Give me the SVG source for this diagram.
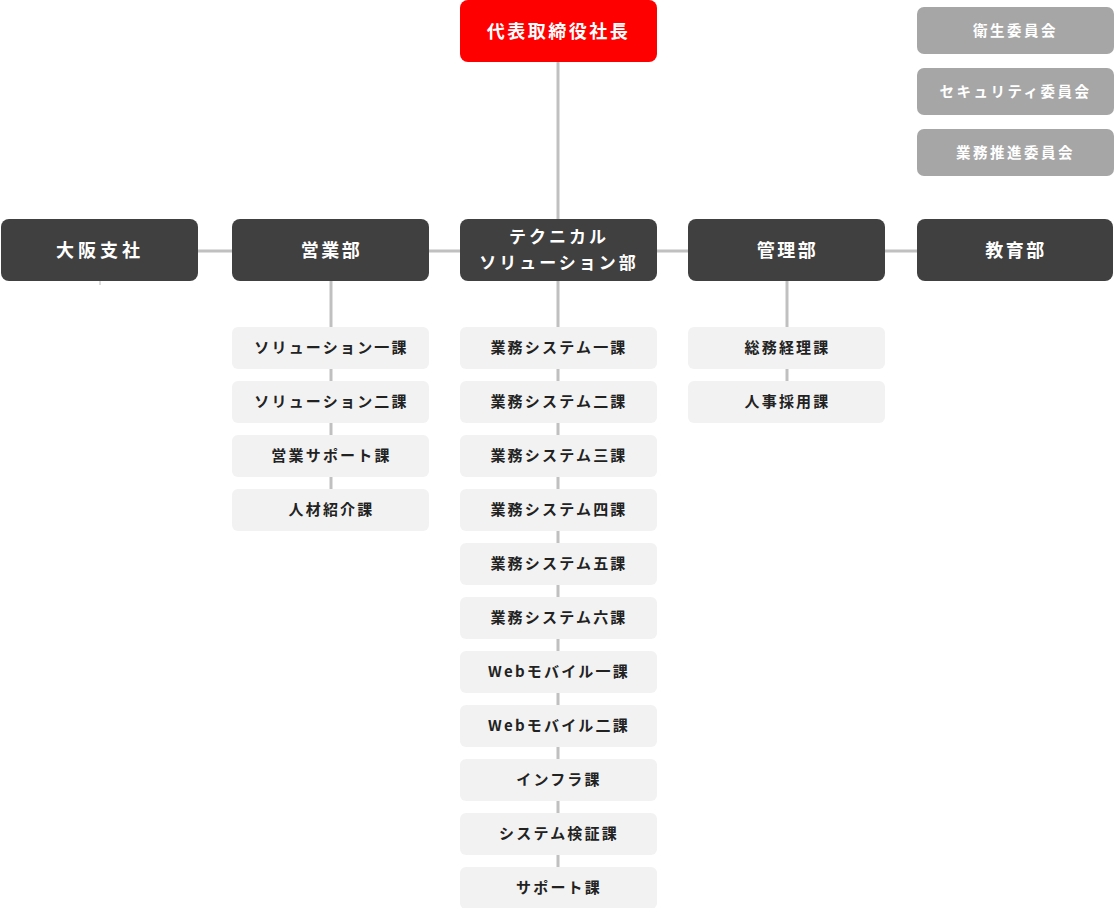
<svg xmlns="http://www.w3.org/2000/svg" width="1115" height="908" viewBox="0 0 1115 908">
<style>
text{font-family:"Noto Sans CJK JP","Noto Sans",sans-serif;font-weight:bold;text-anchor:middle;dominant-baseline:central}
.top rect{fill:#ff0000}
.dept rect{fill:#404040}
.com rect{fill:#a6a6a6}
.sec rect{fill:#f2f2f2}
.top text,.dept text{fill:#fff;font-size:18px;letter-spacing:2.5px}
.com text{fill:#fff;font-size:14.5px;letter-spacing:2.5px}
.sec text{fill:#222;font-size:15px;letter-spacing:2.2px}
.conn line{stroke:#c0c0c0;stroke-width:3}
</style>
<rect width="1115" height="908" fill="#fff"/>
<g id="connectors" class="conn">
<line x1="558" y1="62" x2="558" y2="220"/>
<line x1="198" y1="251" x2="917" y2="251"/>
<line x1="331" y1="281" x2="331" y2="490"/>
<line x1="558" y1="281" x2="558" y2="868"/>
<line x1="787" y1="281" x2="787" y2="382"/>
<line x1="100" y1="281" x2="100" y2="285" style="stroke:#d0d0d0;stroke-width:1.5"/>
</g>
<g id="ceo" class="top"><rect x="460" y="0" width="197" height="62" rx="8"/><text x="558.5" y="29.5">代表取締役社長</text></g>
<g id="com1" class="com"><rect x="917" y="7" width="197" height="47" rx="7"/><text x="1015.5" y="29">衛生委員会</text></g>
<g id="com2" class="com"><rect x="917" y="68" width="197" height="47" rx="7"/><text x="1015.5" y="90">セキュリティ委員会</text></g>
<g id="com3" class="com"><rect x="917" y="129" width="197" height="47" rx="7"/><text x="1015.5" y="151">業務推進委員会</text></g>
<g id="osaka" class="dept"><rect x="1" y="219" width="197" height="62" rx="8"/><text x="100" y="248.5" style="letter-spacing:4px">大阪支社</text></g>
<g id="sales" class="dept"><rect x="232" y="219" width="197" height="62" rx="8"/><text x="331.5" y="248.5">営業部</text></g>
<g id="tech" class="dept"><rect x="460" y="219" width="197" height="62" rx="8"/><text x="559" y="235.5" style="font-size:17px;letter-spacing:3px">テクニカル</text><text x="559" y="261.5" style="font-size:17px;letter-spacing:3px">ソリューション部</text></g>
<g id="admin" class="dept"><rect x="688" y="219" width="197" height="62" rx="8"/><text x="787.5" y="248.5">管理部</text></g>
<g id="edu" class="dept"><rect x="917" y="219" width="196" height="62" rx="8"/><text x="1016" y="248.5">教育部</text></g>
<g id="s1" class="sec"><rect x="232" y="327" width="197" height="42" rx="6"/><text x="331.5" y="346.5">ソリューション一課</text></g>
<g id="s2" class="sec"><rect x="232" y="381" width="197" height="42" rx="6"/><text x="331.5" y="400.5">ソリューション二課</text></g>
<g id="s3" class="sec"><rect x="232" y="435" width="197" height="42" rx="6"/><text x="331.5" y="454.5">営業サポート課</text></g>
<g id="s4" class="sec"><rect x="232" y="489" width="197" height="42" rx="6"/><text x="331.5" y="508.5">人材紹介課</text></g>
<g id="t1" class="sec"><rect x="460" y="327" width="197" height="42" rx="6"/><text x="559" y="346.5">業務システム一課</text></g>
<g id="t2" class="sec"><rect x="460" y="381" width="197" height="42" rx="6"/><text x="559" y="400.5">業務システム二課</text></g>
<g id="t3" class="sec"><rect x="460" y="435" width="197" height="42" rx="6"/><text x="559" y="454.5">業務システム三課</text></g>
<g id="t4" class="sec"><rect x="460" y="489" width="197" height="42" rx="6"/><text x="559" y="508.5">業務システム四課</text></g>
<g id="t5" class="sec"><rect x="460" y="543" width="197" height="42" rx="6"/><text x="559" y="562.5">業務システム五課</text></g>
<g id="t6" class="sec"><rect x="460" y="597" width="197" height="42" rx="6"/><text x="559" y="616.5">業務システム六課</text></g>
<g id="t7" class="sec"><rect x="460" y="651" width="197" height="42" rx="6"/><text x="559" y="670.5">Webモバイル一課</text></g>
<g id="t8" class="sec"><rect x="460" y="705" width="197" height="42" rx="6"/><text x="559" y="724.5">Webモバイル二課</text></g>
<g id="t9" class="sec"><rect x="460" y="759" width="197" height="42" rx="6"/><text x="559" y="778.5">インフラ課</text></g>
<g id="t10" class="sec"><rect x="460" y="813" width="197" height="42" rx="6"/><text x="559" y="832.5">システム検証課</text></g>
<g id="t11" class="sec"><rect x="460" y="867" width="197" height="42" rx="6"/><text x="559" y="886.5">サポート課</text></g>
<g id="a1" class="sec"><rect x="688" y="327" width="197" height="42" rx="6"/><text x="787.5" y="346.5">総務経理課</text></g>
<g id="a2" class="sec"><rect x="688" y="381" width="197" height="42" rx="6"/><text x="787.5" y="400.5">人事採用課</text></g>
</svg>
